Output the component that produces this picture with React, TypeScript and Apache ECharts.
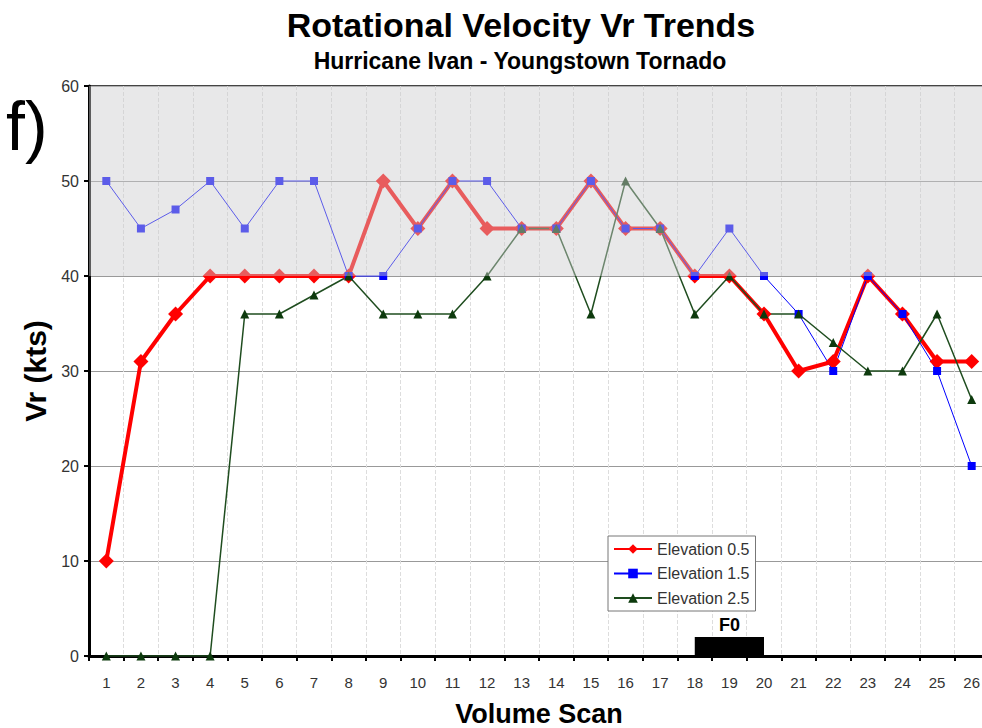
import React, { useEffect, useRef } from "react";
import * as echarts from "echarts";

const scans = ["1","2","3","4","5","6","7","8","9","10","11","12","13","14","15","16","17","18","19","20","21","22","23","24","25","26"];
const elev05 = [10,31,36,40,40,40,40,40,50,45,50,45,45,45,50,45,45,40,40,36,30,31,40,36,31,31];
const elev15 = [50,45,47,50,45,50,50,40,40,45,50,50,45,45,50,45,45,40,45,40,36,30,40,36,30,20];
const elev25 = [0,0,0,0,36,36,38,40,36,36,36,40,45,45,36,50,45,36,40,36,36,33,30,30,36,27];
const seriesNames = ["Elevation 0.5", "Elevation 1.5", "Elevation 2.5"];
const bandRange = [40, 60];
const f0Range = ["18", "20"];
const f0Height = 2;

const FONT = "'Liberation Sans', Arial, sans-serif";

export default function App() {
  const ref = useRef<HTMLDivElement>(null);
  useEffect(() => {
    document.body.style.margin = "0";
    const chart = echarts.init(ref.current!, null, { renderer: "svg" });
    chart.setOption({
      animation: false,
      backgroundColor: "#fff",
      textStyle: { fontFamily: FONT },
      graphic: [
        { type: "text", x: 521, y: 25, style: { text: "Rotational Velocity Vr Trends", fontFamily: FONT, fontSize: 34, fontWeight: "bold", fill: "#000", align: "center", verticalAlign: "middle" } },
        { type: "text", x: 520, y: 61, style: { text: "Hurricane Ivan - Youngstown Tornado", fontFamily: FONT, fontSize: 23, fontWeight: "bold", fill: "#000", align: "center", verticalAlign: "middle" } },
        { type: "text", x: 6, y: 126, style: { text: "f)", fontFamily: FONT, fontSize: 68, fill: "#000", align: "left", verticalAlign: "middle" } },
      ],
      legend: {
        data: seriesNames,
        orient: "vertical",
        left: 608,
        top: 536,
        backgroundColor: "#fff",
        borderColor: "#777",
        borderWidth: 1,
        padding: [5, 6, 5, 5],
        itemGap: 8.5,
        itemWidth: 38,
        itemHeight: 12,
        textStyle: { fontFamily: FONT, fontSize: 16, color: "#333" },
        z: 10,
      },
      grid: {
        left: 89, top: 86, width: 900, height: 570,
        outerBoundsMode: "none",
        containLabel: false,
        show: true, borderColor: "#444", borderWidth: 2, backgroundColor: "transparent",
      },
      xAxis: {
        type: "category",
        data: scans,
        boundaryGap: true,
        name: "Volume Scan",
        nameLocation: "middle",
        nameGap: 44,
        nameTextStyle: { fontFamily: FONT, fontSize: 27, fontWeight: "bold", color: "#000" },
        axisLine: { lineStyle: { color: "#000", width: 3 } },
        axisTick: { show: true, length: 5, lineStyle: { color: "#000", width: 2 } },
        axisLabel: { interval: 0, fontFamily: FONT, fontSize: 15, color: "#333", margin: 19 },
        splitLine: { show: true, interval: 0, lineStyle: { color: "#ddd", type: "dashed", width: 1 } },
      },
      yAxis: {
        type: "value",
        min: 0, max: 60, interval: 10,
        name: "Vr (kts)",
        nameLocation: "middle",
        nameGap: 32,
        nameTextStyle: { fontFamily: FONT, fontSize: 30, fontWeight: "bold", color: "#000" },
        axisLine: { show: true, lineStyle: { color: "#000", width: 3 } },
        axisTick: { show: true, length: 5, lineStyle: { color: "#000", width: 2 } },
        axisLabel: { fontFamily: FONT, fontSize: 16, color: "#333", margin: 10 },
        splitLine: { show: true, lineStyle: { color: "#999", width: 1 } },
      },
      series: [
        {
          name: seriesNames[0], type: "line", data: elev05, z: 2,
          symbol: "diamond", symbolSize: 15,
          lineStyle: { color: "#ff0000", width: 4 },
          itemStyle: { color: "#ff0000" },
          markArea: {
            silent: true,
            itemStyle: { color: "#000" },
            label: { show: true, position: "top", distance: 3, fontFamily: FONT, fontSize: 18, fontWeight: "bold", color: "#000" },
            data: [[{ name: "F0", xAxis: f0Range[0], yAxis: 0 }, { xAxis: f0Range[1], yAxis: f0Height }]],
          },
        },
        {
          name: seriesNames[1], type: "line", data: elev15, z: 2,
          symbol: "rect", symbolSize: 8,
          lineStyle: { color: "#0000ff", width: 1 },
          itemStyle: { color: "#0000ff" },
        },
        {
          name: seriesNames[2], type: "line", data: elev25, z: 2,
          symbol: "triangle", symbolSize: 9,
          lineStyle: { color: "#1f4d1f", width: 1.5 },
          itemStyle: { color: "#0d3a0d" },
        },
        {
          name: "band", type: "custom", z: 6, silent: true,
          data: [bandRange],
          renderItem: (params: any, api: any) => {
            const cs = params.coordSys;
            const yLow = api.coord([0, api.value(0)])[1];
            const yHigh = api.coord([0, api.value(1)])[1];
            return {
              type: "rect",
              shape: { x: cs.x, y: yHigh, width: cs.width, height: yLow - yHigh },
              style: { fill: "rgba(205,203,207,0.45)" },
            };
          },
        },
      ],
    });
    return () => chart.dispose();
  }, []);
  return <div ref={ref} style={{ position: "absolute", left: 0, top: 0, width: 982, height: 728 }} />;
}
